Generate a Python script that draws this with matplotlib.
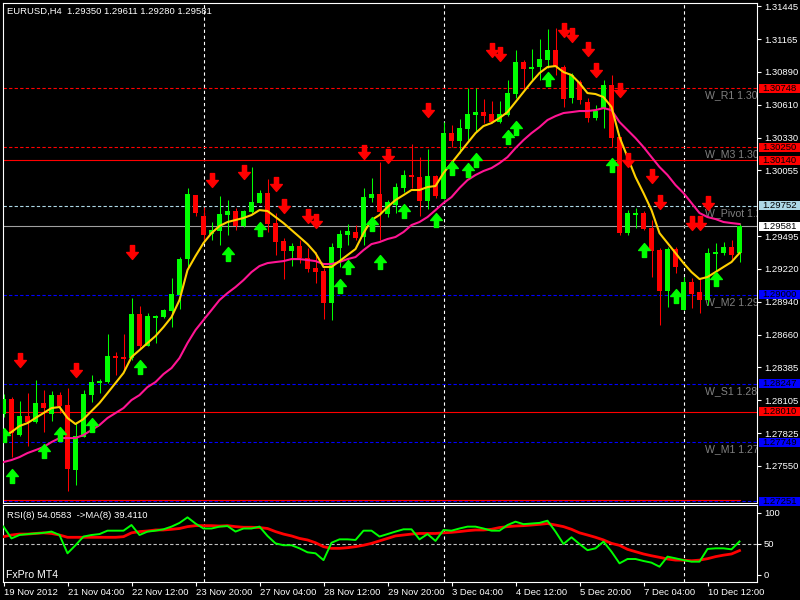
import matplotlib
matplotlib.use("Agg")
import matplotlib.pyplot as plt
import matplotlib.transforms as mtransforms
from matplotlib.patches import Rectangle
from matplotlib.path import Path
import numpy as np
import pandas as pd

plt.rcParams['font.family'] = ['Liberation Sans', 'DejaVu Sans']

symbol = 'EURUSD,H4'
first_bar = '2012-11-19 20:00'

opens = [1.27989, 1.28116, 1.27812, 1.27972, 1.27922, 1.28083, 1.27989, 1.28150, 1.28066, 1.27515,
         1.27795, 1.28150, 1.28252, 1.28260, 1.28481, 1.28472, 1.28464, 1.28836, 1.28565, 1.28803,
         1.28811, 1.28862, 1.28997, 1.29302, 1.29844, 1.29666, 1.29514, 1.29539, 1.29675, 1.29709,
         1.29582, 1.29700, 1.29777, 1.29861, 1.29607, 1.29455, 1.29370, 1.29412, 1.29311, 1.29226,
         1.29201, 1.28930, 1.29395, 1.29506, 1.29531, 1.29489, 1.29819, 1.29853, 1.29683, 1.29760,
         1.29904, 1.30014, 1.29997, 1.29794, 1.30005, 1.29810, 1.30369, 1.30302, 1.30403, 1.30522,
         1.30547, 1.30530, 1.30463, 1.30522, 1.30700, 1.30971, 1.30912, 1.30929, 1.30988, 1.31072,
         1.30929, 1.30666, 1.30801, 1.30632, 1.30497, 1.30581, 1.30776, 1.30336, 1.29522, 1.29675,
         1.29692, 1.29565, 1.29378, 1.29031, 1.29387, 1.28870, 1.29107, 1.29023, 1.28955, 1.29345,
         1.29353, 1.29404, 1.29350]
highs = [1.28159, 1.28133, 1.28100, 1.28167, 1.28277, 1.28193, 1.28184, 1.28176, 1.28210, 1.27922,
         1.28193, 1.28320, 1.28286, 1.28667, 1.28515, 1.28667, 1.28972, 1.28904, 1.28845, 1.28828,
         1.28879, 1.29141, 1.29319, 1.29904, 1.29844, 1.29743, 1.29616, 1.29836, 1.29802, 1.29734,
         1.29717, 1.30082, 1.29887, 1.29980, 1.29692, 1.29480, 1.29438, 1.29463, 1.29395, 1.29362,
         1.29226, 1.29438, 1.29548, 1.29599, 1.29590, 1.29904, 1.29988, 1.30124, 1.29802, 1.29946,
         1.30056, 1.30276, 1.30166, 1.30234, 1.30014, 1.30463, 1.30437, 1.30488, 1.30751, 1.30751,
         1.30657, 1.30641, 1.30641, 1.30818, 1.31072, 1.30988, 1.31081, 1.31166, 1.31250, 1.31259,
         1.30945, 1.30878, 1.30818, 1.30666, 1.30607, 1.30818, 1.30861, 1.30336, 1.29717, 1.29734,
         1.29709, 1.29633, 1.29395, 1.29404, 1.29404, 1.29150, 1.29141, 1.29141, 1.29395, 1.29438,
         1.29446, 1.29463, 1.29611]
lows = [1.27964, 1.27625, 1.27803, 1.27718, 1.27913, 1.27837, 1.27930, 1.27998, 1.27337, 1.27388,
        1.27795, 1.28091, 1.28167, 1.28252, 1.28320, 1.28362, 1.28447, 1.28548, 1.28565, 1.28591,
        1.28803, 1.28726, 1.28879, 1.29235, 1.29666, 1.29463, 1.29463, 1.29421, 1.29506, 1.29548,
        1.29573, 1.29692, 1.29777, 1.29531, 1.29336, 1.29133, 1.29243, 1.29268, 1.29192, 1.29099,
        1.28794, 1.28786, 1.29235, 1.29421, 1.29463, 1.29421, 1.29785, 1.29463, 1.29658, 1.29692,
        1.29870, 1.29904, 1.29666, 1.29726, 1.29819, 1.29810, 1.30251, 1.30200, 1.30310, 1.30378,
        1.30454, 1.30454, 1.30454, 1.30513, 1.30666, 1.30734, 1.30818, 1.30818, 1.30920, 1.30861,
        1.30590, 1.30624, 1.30615, 1.30463, 1.30480, 1.30412, 1.30251, 1.29506, 1.29506, 1.29565,
        1.29548, 1.29150, 1.28743, 1.28896, 1.29184, 1.28870, 1.28887, 1.28845, 1.28913, 1.29184,
        1.29336, 1.29294, 1.29280]
closes = [1.28116, 1.27828, 1.27972, 1.27922, 1.28083, 1.28040, 1.28150, 1.28057, 1.27524, 1.27803,
          1.28159, 1.28260, 1.28269, 1.28481, 1.28464, 1.28455, 1.28836, 1.28565, 1.28819, 1.28819,
          1.28870, 1.29006, 1.29302, 1.29853, 1.29692, 1.29506, 1.29548, 1.29683, 1.29709, 1.29582,
          1.29709, 1.29785, 1.29861, 1.29599, 1.29446, 1.29370, 1.29412, 1.29311, 1.29218, 1.29192,
          1.28930, 1.29404, 1.29514, 1.29539, 1.29480, 1.29827, 1.29853, 1.29700, 1.29785, 1.29912,
          1.30014, 1.29997, 1.29794, 1.30005, 1.29836, 1.30369, 1.30302, 1.30412, 1.30530, 1.30547,
          1.30513, 1.30463, 1.30530, 1.30708, 1.30971, 1.30912, 1.30929, 1.30996, 1.31072, 1.30929,
          1.30657, 1.30861, 1.30649, 1.30497, 1.30556, 1.30776, 1.30327, 1.29522, 1.29692, 1.29692,
          1.29556, 1.29370, 1.29031, 1.29387, 1.29235, 1.29107, 1.29006, 1.28955, 1.29353, 1.29362,
          1.29404, 1.29336, 1.29581]

# yellow fast MA and pink slow MA
ma_fast = [1.27795, 1.27837, 1.27888, 1.27913, 1.27956, 1.27998, 1.28040, 1.28049, 1.27956, 1.27905,
           1.27947, 1.28015, 1.28083, 1.28167, 1.28252, 1.28337, 1.28472, 1.28531, 1.28591, 1.28650,
           1.28726, 1.28811, 1.28955, 1.29209, 1.29328, 1.29438, 1.29522, 1.29582, 1.29616, 1.29633,
           1.29650, 1.29675, 1.29717, 1.29709, 1.29658, 1.29607, 1.29548, 1.29489, 1.29429, 1.29353,
           1.29235, 1.29235, 1.29285, 1.29336, 1.29387, 1.29522, 1.29633, 1.29675, 1.29743, 1.29802,
           1.29844, 1.29887, 1.29887, 1.29912, 1.29921, 1.30031, 1.30115, 1.30200, 1.30285, 1.30369,
           1.30429, 1.30454, 1.30497, 1.30547, 1.30632, 1.30717, 1.30801, 1.30878, 1.30929, 1.30937,
           1.30886, 1.30861, 1.30793, 1.30708, 1.30700, 1.30674, 1.30590, 1.30336, 1.30166, 1.29997,
           1.29861, 1.29717, 1.29522, 1.29438, 1.29353, 1.29268, 1.29192, 1.29133, 1.29150, 1.29192,
           1.29235, 1.29277, 1.29353]
ma_slow = [1.27583, 1.27600, 1.27625, 1.27659, 1.27684, 1.27710, 1.27752, 1.27786, 1.27786, 1.27786,
           1.27812, 1.27854, 1.27896, 1.27956, 1.27998, 1.28040, 1.28108, 1.28150, 1.28218, 1.28260,
           1.28328, 1.28379, 1.28464, 1.28591, 1.28701, 1.28786, 1.28870, 1.28955, 1.29014, 1.29065,
           1.29124, 1.29192, 1.29243, 1.29268, 1.29277, 1.29285, 1.29302, 1.29302, 1.29294, 1.29285,
           1.29260, 1.29260, 1.29277, 1.29302, 1.29319, 1.29378, 1.29429, 1.29446, 1.29472, 1.29489,
           1.29531, 1.29590, 1.29616, 1.29658, 1.29717, 1.29777, 1.29827, 1.29904, 1.29971, 1.30014,
           1.30048, 1.30073, 1.30115, 1.30166, 1.30242, 1.30310, 1.30369, 1.30420, 1.30480, 1.30513,
           1.30539, 1.30547, 1.30556, 1.30556, 1.30564, 1.30581, 1.30564, 1.30463, 1.30395, 1.30327,
           1.30251, 1.30166, 1.30082, 1.30014, 1.29929, 1.29861, 1.29777, 1.29692, 1.29658, 1.29641,
           1.29616, 1.29607, 1.29599]

# signal arrows: bar index and price
sell_bars = [2, 9, 16, 26, 30, 34, 35, 38, 39, 45, 48, 53, 61, 62, 70, 71, 73, 74, 77, 78, 81, 82, 86, 87, 88]
sell_prices = [1.28447, 1.28362, 1.29362, 1.29971, 1.30039, 1.29938, 1.29751, 1.29666, 1.29624, 1.30209,
               1.30175, 1.30564, 1.31072, 1.31039, 1.31242, 1.31200, 1.31081, 1.30903, 1.30734, 1.30141,
               1.30005, 1.29785, 1.29607, 1.29607, 1.29777]
buy_bars = [0, 1, 5, 7, 11, 17, 28, 32, 42, 43, 46, 47, 50, 54, 56, 58, 59, 63, 64, 68, 76, 80, 84, 89]
buy_prices = [1.27812, 1.27464, 1.27676, 1.27820, 1.27896, 1.28388, 1.29345, 1.29556, 1.29074, 1.29235,
              1.29599, 1.29277, 1.29709, 1.29633, 1.30073, 1.30056, 1.30141, 1.30336, 1.30412, 1.30827,
              1.30098, 1.29378, 1.28989, 1.29133]

# weekly pivot levels
level_names = ['W_R1', 'W_M3', 'W_Pivot', 'W_M2', 'W_S1', 'W_M1', 'W_S2']
level_prices = [1.30748, 1.30250, 1.29752, 1.29000, 1.28247, 1.27749, 1.27251]
level_colors = ['#FF0000', '#FF0000', '#ADD8E6', '#0000FF', '#0000FF', '#0000FF', '#0000FF']
extra_lines = [1.30140, 1.28010]
low_line = 1.27262

# scale labels left visible by the price tags
price_ticks = [1.31445, 1.31165, 1.30890, 1.30610, 1.30330, 1.30055, 1.29495,
               1.29220, 1.28940, 1.28660, 1.28385, 1.28105, 1.27825, 1.27550]

rsi = [78, 59, 64.5, 66, 67, 68, 70, 64.5, 35, 48, 62, 64.5, 66, 71.5, 71.5, 71.5, 80.6, 64.5, 70, 71.5,
       73.7, 78, 84, 93, 83, 75, 75, 78, 79, 70, 75, 75, 78, 63, 51, 48, 48, 43, 36.6, 35,
       24, 52, 57.5, 57.5, 56.5, 71.5, 71.5, 62, 66, 70, 73.7, 73.7, 57.5, 66, 55, 72.6, 71.5, 75, 78, 78,
       75, 71.5, 71.5, 80.6, 86, 82, 83, 84, 87.6, 70, 50, 60.8, 50, 40, 43, 53.8, 37.6, 18.8, 25.8, 25.8,
       22.6, 19.9, 13.4, 29.6, 26.9, 24, 21.5, 21.5, 42, 43, 43, 41.4, 54.0583]
rsi_ma = [61.8, 64.5, 66, 66, 67, 68, 67, 64.5, 60.8, 60.8, 60.8, 60.8, 60.8, 60.8, 60.8, 61.8, 68, 70, 71, 72.6,
          72.6, 73.7, 75, 78, 79.6, 79.6, 79.6, 79, 79.6, 78, 77, 77, 76.5, 75, 70, 66, 63, 59, 56.5, 52,
          45.7, 43, 43, 44, 45.7, 48, 51, 55, 59, 63, 64.5, 66, 67, 67, 67, 68, 68.8, 70, 71.5, 72.6,
          72.6, 73.7, 76.5, 78, 79, 79.6, 80.6, 81.7, 83, 80.6, 78, 73.7, 68, 64.5, 60.8, 56.5, 51, 47.8, 41.4, 37.6,
          33.9, 31, 28.5, 25.8, 24, 24, 23, 24, 26.3, 29.6, 32, 33.9, 39.4110]

# ---------------- layout (pixel geometry of the MT4 window) ----------------
W, H = 800, 600
fig = plt.figure(figsize=(8, 6), dpi=100, facecolor='black')
ax = fig.add_axes([3 / W, 1 - 503 / H, 754 / W, 500 / H], facecolor='black')
sub = fig.add_axes([3 / W, 1 - 582 / H, 754 / W, 77 / H], facecolor='black')

n = len(closes)
x = np.arange(n)
times = pd.date_range(first_bar, periods=2 * n, freq='4h')
times = times[times.dayofweek < 5][:n]

for a in (ax, sub):
    a.set_xlim(-0.0625, 94.1875)
    for s in a.spines.values():
        s.set_color('white')
        s.set_linewidth(0.8)
ax.set_ylim(1.27236, 1.31471)
sub.set_ylim(-11.3, 112.9)

fs = 6.8
grey = '#808080'

# week separators
for i in np.where((times.dayofweek == 0) & (times.hour == 0))[0]:
    for a in (ax, sub):
        a.axvline(i, color='white', lw=0.8, ls=(0, (3, 2.5)), zorder=1)

# pivot levels
yx = mtransforms.blended_transform_factory(ax.transAxes, ax.transData)
for name, p, colr in zip(level_names, level_prices, level_colors):
    ax.axhline(p, color=colr, lw=0.8, ls=(0, (3, 2)), zorder=2)
    ax.annotate('%s %.5f' % (name, p), xy=(0.931, p), xycoords=yx, xytext=(0, -1.5),
                textcoords='offset points', va='top', ha='left', color=grey, fontsize=fs + 0.8,
                clip_on=True)
for p in extra_lines:
    ax.axhline(p, color='#FF0000', lw=0.8, zorder=2)
ax.plot([-0.0625, x[-1]], [low_line, low_line], color='#FF0000', lw=0.8, zorder=2)
ax.axhline(closes[-1], color='#A0A0A0', lw=0.8, zorder=2)

# candles
o, h, l, c = map(np.array, (opens, highs, lows, closes))
col = np.where(c >= o, '#00FF00', '#FF0000')
ax.vlines(x, l, h, colors=col, lw=0.75, zorder=3)
ax.bar(x, np.maximum(np.abs(c - o), 0.00009), bottom=np.minimum(o, c), width=0.62,
       color=col, lw=0, zorder=4)

ax.plot(x, ma_slow, color='#FF1493', lw=1.5, zorder=5)
ax.plot(x, ma_fast, color='#FFD000', lw=1.5, zorder=5)

# arrows
down = Path([(-0.15, 0.5), (0.15, 0.5), (0.15, 0.0), (0.42, 0.0), (0.0, -0.5),
             (-0.42, 0.0), (-0.15, 0.0), (-0.15, 0.5)],
            [Path.MOVETO] + [Path.LINETO] * 6 + [Path.CLOSEPOLY])
up = Path(down.vertices * [1, -1], down.codes)
ax.plot(sell_bars, sell_prices, ls='none', marker=down, ms=10, color='#FF0000', zorder=6)
ax.plot(buy_bars, buy_prices, ls='none', marker=up, ms=10, color='#00FF00', zorder=6)

# price scale
ax.set_xticks([])
ax.yaxis.tick_right()
ax.set_yticks(price_ticks)
ax.set_yticklabels(['%.5f' % p for p in price_ticks])
ax.tick_params(axis='y', colors='white', length=3, width=0.8, pad=2, labelsize=fs)

# price tags on the scale (box 9 px tall, from x=759 to the window edge)
boxes = [(p, colr, 'black') for p, colr in zip(level_prices, level_colors)]
boxes += [(p, '#FF0000', 'black') for p in extra_lines]
boxes += [(closes[-1], 'white', 'black')]
box_h = 9 * (1.31471 - 1.27236) / 500
for p, fc, tc in boxes:
    ax.add_patch(Rectangle((756 / 754, p - box_h / 2), 45 / 754, box_h, transform=yx,
                           fc=fc, ec='none', clip_on=False, zorder=9))
    ax.text(759 / 754, p, '%.5f' % p, transform=yx, ha='left', va='center', color=tc,
            fontsize=fs, clip_on=False, zorder=10)

ax.text(0.0053, 0.984, '%s  %.5f %.5f %.5f %.5f' % (symbol, opens[-1], highs[-1], lows[-1], closes[-1]),
        transform=ax.transAxes, color='white', fontsize=fs, va='center', ha='left')

# RSI window
sub.axhline(50, color='#C0C0C0', lw=0.8, ls=(0, (3, 2)), zorder=1)
sub.plot(x, rsi_ma, color='#FF0000', lw=2.0, zorder=3)
sub.plot(x, rsi, color='#00FF00', lw=1.4, zorder=4)
sub.yaxis.tick_right()
sub.set_yticks([0, 50, 100])
sub.tick_params(axis='y', colors='white', length=3, width=0.8, pad=2, labelsize=fs)
sub.text(0.0053, 0.86, 'RSI(8) %.4f  ->MA(8) %.4f' % (rsi[-1], rsi_ma[-1]), transform=sub.transAxes,
         color='white', fontsize=fs, va='center', ha='left')
sub.text(0.004, 0.09, 'FxPro MT4', transform=sub.transAxes, color='white', fontsize=fs + 0.8,
         va='center', ha='left')

lab_idx = x[::8]
labels = []
for i in lab_idx:
    d = times[i]
    labels.append('%d %s' % (d.day, d.strftime('%b %Y' if i == 0 else '%b %H:%M')))
sub.set_xticks(lab_idx)
sub.set_xticklabels(labels, ha='left')
sub.tick_params(axis='x', colors='white', length=3, width=0.8, pad=1.5, labelsize=fs)

fig.savefig('out.png', dpi=100, facecolor='black')
